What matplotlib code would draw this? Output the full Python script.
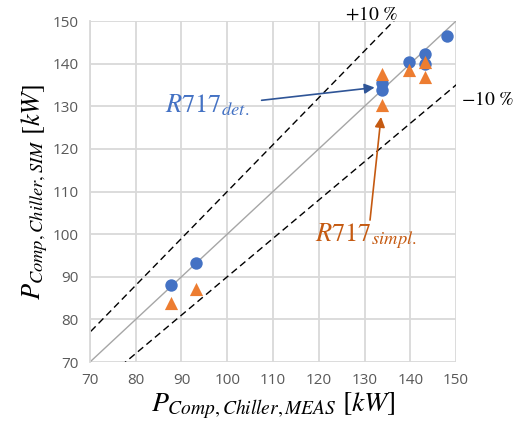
import numpy as np
import matplotlib
matplotlib.use('Agg')
import matplotlib.pyplot as plt

plt.rcParams['mathtext.fontset'] = 'stix'

# measured vs simulated compressor power [kW]
det_meas = [87.6, 93.2, 133.8, 133.8, 139.8, 143.3, 143.3, 148.0]
det_sim = [88.0, 93.3, 135.4, 133.8, 140.4, 142.3, 140.0, 146.6]
simpl_meas = [87.6, 93.2, 133.8, 133.8, 139.8, 143.3, 143.3]
simpl_sim = [83.9, 87.1, 137.6, 130.4, 138.4, 140.4, 136.9]

xticks = [70, 80, 90, 100, 110, 120, 130, 140, 150]
yticks = [70, 80, 90, 100, 110, 120, 130, 140, 150]

fig = plt.figure(figsize=(5.13, 4.38), dpi=100)
ax = fig.add_axes([0.1754, 0.1735, 0.889 - 0.1754, 0.952 - 0.1735])

xx = np.array([60, 160])
ax.plot(xx, xx, color='#A6A6A6', lw=1, zorder=2)
ax.plot(xx, 1.1 * xx, color='black', lw=1, ls=(0, (5, 3)), zorder=2)
ax.plot(xx, 0.9 * xx, color='black', lw=1, ls=(0, (5, 3)), zorder=2)

ax.scatter(det_meas, det_sim, s=80, color='#4472C4', marker='o', zorder=3, linewidths=0)
ax.scatter(simpl_meas, simpl_sim, s=90, color='#ED7D31', marker='^', zorder=4, linewidths=0)

ax.set_xlim(70, 150)
ax.set_ylim(70, 150)
ax.set_xticks(xticks)
ax.set_yticks(yticks)
ax.grid(True, color='#D9D9D9', lw=1.3, zorder=0)
ax.set_axisbelow(True)
for s in ['top', 'right', 'bottom']:
    ax.spines[s].set_visible(False)
ax.spines['left'].set_color('#D9D9D9')
ax.spines['left'].set_linewidth(1.3)
ax.tick_params(length=0, labelsize=11, labelcolor='#595959', pad=8)
for lab in ax.get_xticklabels() + ax.get_yticklabels():
    lab.set_fontfamily('Open Sans')

ax.set_xlabel(r'$P_{Comp,Chiller,MEAS}\ [kW]$', fontsize=20, labelpad=2)
ax.set_ylabel(r'$P_{Comp,Chiller,SIM}\ [kW]$', fontsize=19, labelpad=2)

ax.text(131.5, 151.6, r'$+10\ \%$', fontsize=14, ha='center', va='center', clip_on=False)
ax.text(151.0, 131.5, r'$-10\ \%$', fontsize=14, ha='left', va='center', clip_on=False)

ax.text(95.5, 130.3, r'$R717_{det.}$', fontsize=19, color='#4472C4', ha='center', va='center')
ax.annotate('', xy=(132.2, 134.4), xytext=(107.5, 131.4),
            arrowprops=dict(arrowstyle='-|>', color='#2F5597', lw=1.2,
                            mutation_scale=15, shrinkA=0, shrinkB=0))
ax.text(130.3, 99.5, r'$R717_{simpl.}$', fontsize=19, color='#C55A11', ha='center', va='center')
ax.annotate('', xy=(133.6, 127.5), xytext=(131.2, 103.3),
            arrowprops=dict(arrowstyle='-|>', color='#C55A11', lw=1.2,
                            mutation_scale=15, shrinkA=0, shrinkB=0))

fig.savefig('out.png', dpi=100)
